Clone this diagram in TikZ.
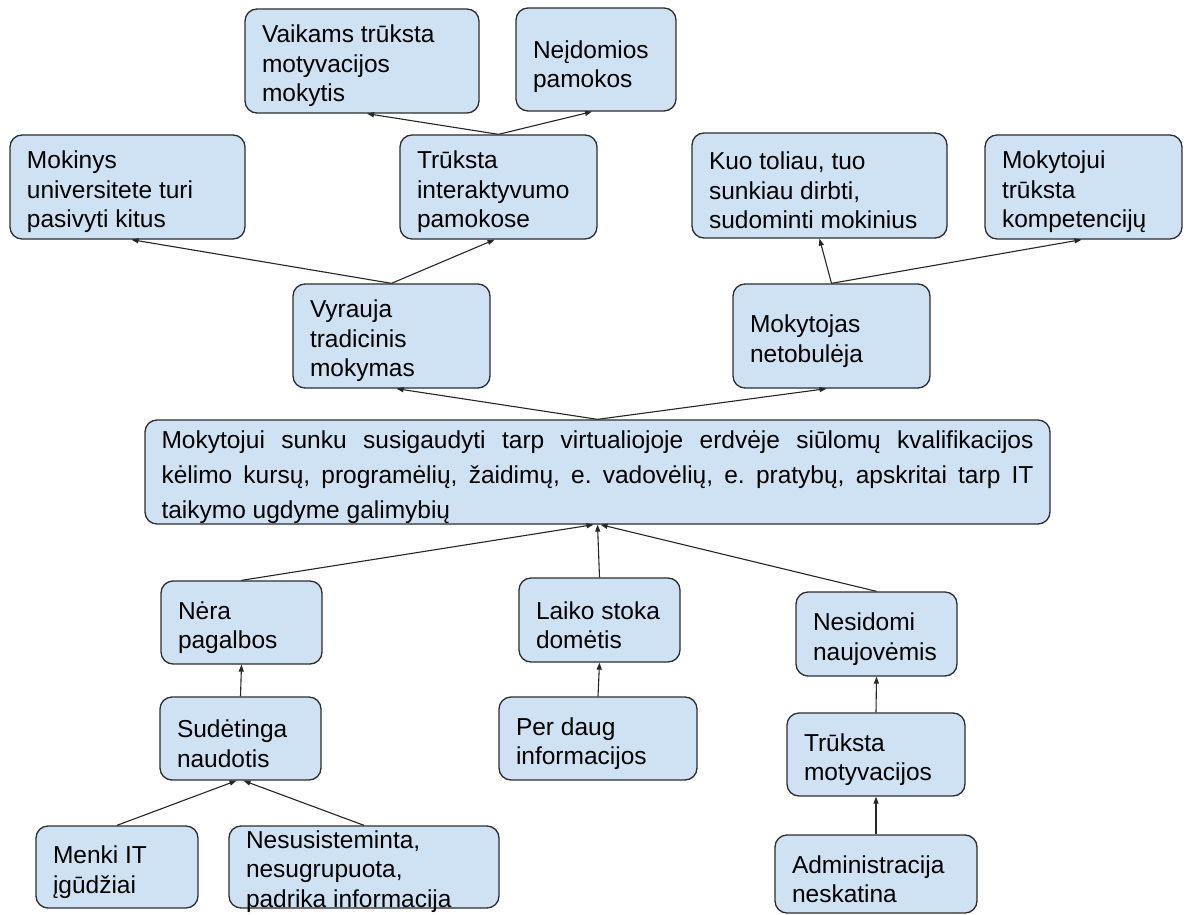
\documentclass[tikz,border=0pt]{standalone}
\usepackage{fontspec}
\setmainfont{Liberation Sans}
\usetikzlibrary{arrows.meta}
\definecolor{boxfill}{RGB}{207,226,243}
\definecolor{boxline}{RGB}{45,45,45}
\newcommand\boxfont{\fontsize{24.5}{29.5}\selectfont\hyphenpenalty=10000\relax\frenchspacing}
\newcommand\corefont{\fontsize{24.5}{35}\selectfont\frenchspacing}
\begin{document}
\begin{tikzpicture}[x=1pt,y=-1pt,
  box/.style={draw=boxline, line width=1.3pt, fill=boxfill, rounded corners=12pt,
    inner xsep=17pt, inner ysep=0pt, align=left, text=black, font=\boxfont,
    text height=28pt, execute at begin node={\spaceskip=0pt\relax}},
  link/.style={draw=black!85, line width=1.1pt, -{Triangle[length=7pt,width=5pt]}}]
\useasboundingbox (0,0) rectangle (1189,915);
\fill[white] (0,0) rectangle (1189,915);

% upper branches
\node[box, minimum width=234pt, minimum height=104pt, text width=200pt] (vaik) at (362,61)
  {Vaikams trūksta\\motyvacijos\\mokytis};
\node[box, minimum width=160pt, minimum height=103pt, text width=126pt, text height=32pt] (neid) at (596,59.5)
  {Neįdomios\\pamokos};
\node[box, minimum width=235pt, minimum height=104pt, text width=201pt] (mok) at (127.5,187)
  {Mokinys\\universitete turi\\pasivyti kitus};
\node[box, minimum width=197pt, minimum height=104pt, text width=163pt] (trint) at (498.5,187)
  {Trūksta\\interaktyvumo\\pamokose};
\node[box, minimum width=255pt, minimum height=105pt, text width=221pt] (kuo) at (819.5,185.5)
  {Kuo toliau, tuo\\sunkiau dirbti,\\sudominti mokinius};
\node[box, minimum width=197pt, minimum height=104pt, text width=163pt] (mkomp) at (1083.5,187)
  {Mokytojui\\trūksta\\kompetencijų};
\node[box, minimum width=197pt, minimum height=104pt, text width=163pt] (vyr) at (391.5,336)
  {Vyrauja\\tradicinis\\mokymas};
\node[box, minimum width=197pt, minimum height=104pt, text width=163pt] (mnet) at (831.5,336)
  {Mokytojas\\netobulėja};

% central problem
\node[box, minimum width=905pt, minimum height=104pt, text width=872pt, inner xsep=16.5pt,
  font=\corefont] (core) at (597.5,472)
  {\makebox[872pt][s]{Mokytojui sunku susigaudyti tarp virtualiojoje erdvėje siūlomų kvalifikacijos}\\
   \makebox[872pt][s]{kėlimo kursų, programėlių, žaidimų, e. vadovėlių, e. pratybų, apskritai tarp IT}\\
   taikymo ugdyme galimybių};

% lower branches
\node[box, minimum width=161pt, minimum height=83pt, text width=127pt] (nera) at (241.5,622.5)
  {Nėra\\pagalbos};
\node[box, minimum width=161pt, minimum height=84pt, text width=127pt] (laiko) at (599.5,620)
  {Laiko stoka\\domėtis};
\node[box, minimum width=161pt, minimum height=84pt, text width=127pt] (nesid) at (876.5,634)
  {Nesidomi\\naujovėmis};
\node[box, minimum width=161pt, minimum height=83pt, text width=127pt] (sud) at (240.5,738.5)
  {Sudėtinga\\naudotis};
\node[box, minimum width=198pt, minimum height=83pt, text width=164pt] (perd) at (598,738.5)
  {Per daug\\informacijos};
\node[box, minimum width=178pt, minimum height=83pt, text width=144pt] (trmot) at (876,754.5)
  {Trūksta\\motyvacijos};
\node[box, minimum width=162pt, minimum height=82pt, text width=128pt] (menki) at (117,867)
  {Menki IT\\įgūdžiai};
\node[box, minimum width=270pt, minimum height=82pt, text width=236pt,
  text height=22pt, text depth=60pt] (nesus) at (364,867)
  {Nesusisteminta,\\nesugrupuota,\\padrika informacija};
\node[box, minimum width=202pt, minimum height=78pt, text width=168pt] (admin) at (876,874)
  {Administracija\\neskatina};

% connectors (effect above, cause below)
\draw[link] (trint.north) -- ([xshift=5pt]vaik.south);
\draw[link] (trint.north) -- ([xshift=-4pt]neid.south);
\draw[link] (vyr.north) -- ([xshift=4pt]mok.south);
\draw[link] (vyr.north) -- ([xshift=-4pt]trint.south);
\draw[link] (mnet.north) -- (kuo.south);
\draw[link] (mnet.north) -- ([xshift=-2pt]mkomp.south);
\draw[link] (core.north) -- ([xshift=5pt]vyr.south);
\draw[link] (core.north) -- ([xshift=-5pt]mnet.south);
\draw[link] (nera.north) -- ([xshift=-4pt]core.south);
\draw[link] (laiko.north) -- (core.south);
\draw[link] (nesid.north) -- ([xshift=3pt]core.south);
\draw[link] (sud.north) -- (nera.south);
\draw[link] (perd.north) -- (laiko.south);
\draw[link] (trmot.north) -- (nesid.south);
\draw[link] (admin.north) -- (trmot.south);
\draw[link] (menki.north) -- ([xshift=-4pt]sud.south);
\draw[link] (nesus.north) -- ([xshift=3pt]sud.south);
\end{tikzpicture}
\end{document}
